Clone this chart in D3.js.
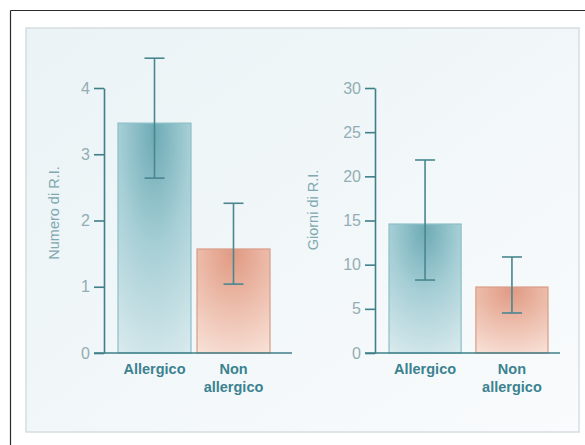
<!DOCTYPE html>
<html>
<head>
<meta charset="utf-8">
<script src="https://cdn.jsdelivr.net/npm/d3@7"></script>
<style>
  html, body { margin: 0; padding: 0; background: #ffffff; }
  svg { display: block; }
</style>
</head>
<body>
<svg id="chart" width="585" height="445"></svg>
<script>
// ---- data ----
const categories = ["Allergico", "Non allergico"];
const categoryLines = [["Allergico"], ["Non", "allergico"]];

const numeroValues = [3.47, 1.57];
const numeroErrLow = [2.64, 1.04];
const numeroErrHigh = [4.45, 2.26];
const numeroTicks = [0, 1, 2, 3, 4];
const numeroTitle = "Numero di R.I.";

const giorniValues = [14.6, 7.47];
const giorniErrLow = [8.26, 4.53];
const giorniErrHigh = [21.85, 10.87];
const giorniTicks = [0, 5, 10, 15, 20, 25, 30];
const giorniTitle = "Giorni di R.I.";

// ---- drawing ----
const svg = d3.select("#chart");
const defs = svg.append("defs");

const bg = defs.append("linearGradient").attr("id", "bgGrad")
  .attr("x1", "0%").attr("y1", "0%").attr("x2", "100%").attr("y2", "100%");
bg.append("stop").attr("offset", "0%").attr("stop-color", "#eaf3f6");
bg.append("stop").attr("offset", "100%").attr("stop-color", "#f9fbfc");

function barGrad(id, c0, c1, c2) {
  const g = defs.append("radialGradient").attr("id", id)
    .attr("cx", "50%").attr("cy", "5%").attr("r", "110%")
    .attr("fx", "50%").attr("fy", "5%");
  g.append("stop").attr("offset", "0%").attr("stop-color", c0);
  g.append("stop").attr("offset", "45%").attr("stop-color", c1);
  g.append("stop").attr("offset", "100%").attr("stop-color", c2);
}
barGrad("tealGrad", "#6eabb5", "#a7cfd6", "#dcecef");
barGrad("salmonGrad", "#e09a83", "#ecbcaa", "#f9e4db");
const fills = ["url(#tealGrad)", "url(#salmonGrad)"];
const strokes = ["#8abfc7", "#d89c87"];

// outer frame (top and left edges visible)
svg.append("line").attr("x1", 10.5).attr("x2", 585).attr("y1", 10.5).attr("y2", 10.5)
  .attr("stroke", "#2b2b2b").attr("stroke-width", 1.2);
svg.append("line").attr("x1", 10.5).attr("x2", 10.5).attr("y1", 10.5).attr("y2", 445)
  .attr("stroke", "#2b2b2b").attr("stroke-width", 1.2);
// panel
svg.append("rect").attr("x", 26).attr("y", 28).attr("width", 553).attr("height", 404)
  .attr("fill", "url(#bgGrad)").attr("stroke", "#d6dde0").attr("stroke-width", 1.5);

const axisColor = "#3f7f89";
const tickTextColor = "#93adb3";
const titleColor = "#80a8b0";
const catColor = "#3b8290";

function drawPanel(cfg) {
  const y = d3.scaleLinear().domain([0, cfg.ticks[cfg.ticks.length - 1]])
    .range([cfg.bottom, cfg.top]);
  const x = d3.scaleBand().domain(categories)
    .range([cfg.barLeft, cfg.barRight]).paddingInner(cfg.padInner).paddingOuter(0);
  const g = svg.append("g");

  // bars
  g.selectAll("rect.bar").data(categories).enter().append("rect")
    .attr("class", "bar")
    .attr("x", d => x(d))
    .attr("y", (d, i) => y(cfg.values[i]))
    .attr("width", x.bandwidth())
    .attr("height", (d, i) => y(0) - y(cfg.values[i]))
    .attr("fill", (d, i) => fills[i])
    .attr("stroke", (d, i) => strokes[i])
    .attr("stroke-width", 1.2);

  // error bars
  const eb = g.selectAll("g.err").data(categories).enter().append("g");
  eb.append("line")
    .attr("x1", d => x(d) + x.bandwidth() / 2).attr("x2", d => x(d) + x.bandwidth() / 2)
    .attr("y1", (d, i) => y(cfg.errLow[i])).attr("y2", (d, i) => y(cfg.errHigh[i]))
    .attr("stroke", "#4a8690").attr("stroke-width", 1.6);
  [cfg.errLow, cfg.errHigh].forEach(arr => {
    eb.append("line")
      .attr("x1", d => x(d) + x.bandwidth() / 2 - 10).attr("x2", d => x(d) + x.bandwidth() / 2 + 10)
      .attr("y1", (d, i) => y(arr[i])).attr("y2", (d, i) => y(arr[i]))
      .attr("stroke", "#4a8690").attr("stroke-width", 1.6);
  });

  // y axis
  const ax = g.append("g").attr("transform", `translate(${cfg.axisX},0)`)
    .call(d3.axisLeft(y).tickValues(cfg.ticks).tickFormat(d3.format("d"))
      .tickSize(10).tickSizeOuter(0).tickPadding(4));
  ax.select(".domain").attr("stroke", axisColor).attr("stroke-width", 1.6);
  ax.selectAll(".tick line").attr("stroke", axisColor).attr("stroke-width", 1.6);
  ax.selectAll(".tick text")
    .attr("fill", tickTextColor)
    .style("font-family", "'Liberation Sans', Arial, sans-serif")
    .style("font-size", "16px");

  // baseline
  g.append("line")
    .attr("x1", cfg.axisX - 10).attr("x2", cfg.baseRight)
    .attr("y1", y(0)).attr("y2", y(0))
    .attr("stroke", axisColor).attr("stroke-width", 1.6);

  // y title
  g.append("text")
    .attr("transform", `translate(${cfg.titleX},${cfg.titleY}) rotate(-90)`)
    .attr("text-anchor", "middle")
    .attr("dominant-baseline", "middle")
    .attr("fill", titleColor)
    .style("font-family", "'Liberation Sans', Arial, sans-serif")
    .style("font-size", "14.5px")
    .text(cfg.title);

  // category labels
  const cl = g.selectAll("text.cat").data(categories).enter().append("text")
    .attr("class", "cat")
    .attr("text-anchor", "middle")
    .attr("fill", catColor)
    .style("font-family", "'Liberation Sans', Arial, sans-serif")
    .style("font-weight", "bold")
    .style("font-size", "14.5px");
  cl.each(function (d, i) {
    const t = d3.select(this);
    categoryLines[i].forEach((line, j) => {
      t.append("tspan")
        .attr("x", x(d) + x.bandwidth() / 2)
        .attr("y", y(0) + 21 + j * 18)
        .text(line);
    });
  });
}

drawPanel({
  values: numeroValues, errLow: numeroErrLow, errHigh: numeroErrHigh,
  ticks: numeroTicks, title: numeroTitle,
  top: 88, bottom: 353, axisX: 104, baseRight: 292,
  barLeft: 118, barRight: 270, padInner: 0.076, titleX: 55, titleY: 213
});

drawPanel({
  values: giorniValues, errLow: giorniErrLow, errHigh: giorniErrHigh,
  ticks: giorniTicks, title: giorniTitle,
  top: 88, bottom: 353, axisX: 375, baseRight: 560,
  barLeft: 389, barRight: 548, padInner: 0.17, titleX: 314, titleY: 210
});
</script>
</body>
</html>
